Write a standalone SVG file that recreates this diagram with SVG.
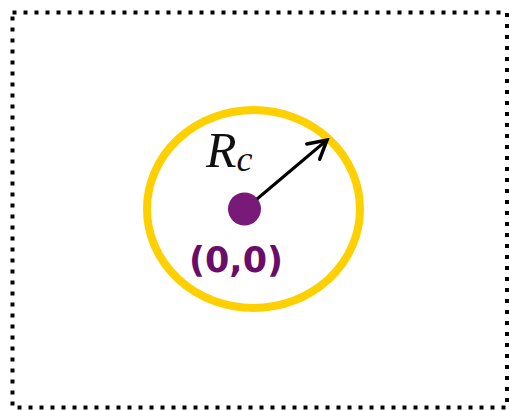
<svg xmlns="http://www.w3.org/2000/svg" width="509" height="411" viewBox="0 0 509 411">
<style>
.frame{fill:none;stroke:#000;stroke-width:4;stroke-dasharray:4 7}
.lbl{font-family:"DejaVu Sans",sans-serif;font-weight:bold;fill:#6a0d6a}
.math{font-family:"Liberation Serif","DejaVu Serif",serif;font-style:italic;fill:#111}
</style>
<defs>
<marker id="ah" viewBox="0 0 24 24" refX="21" refY="12" markerWidth="24" markerHeight="24" markerUnits="userSpaceOnUse" orient="auto">
<path d="M3,2 L21,12 L3,22" fill="none" stroke="#000" stroke-width="3.5" stroke-linejoin="miter" stroke-linecap="round"/>
</marker>
</defs>
<rect class="frame" x="12.5" y="12.5" width="494.5" height="395"/>
<g id="circle">
<ellipse cx="253.5" cy="209" rx="106.5" ry="99" fill="none" stroke="#FFD000" stroke-width="8"/>
</g>
<g id="origin">
<circle cx="244.5" cy="209" r="16.5" fill="#7a1a78"/>
<text class="lbl" x="236" y="272" font-size="35" text-anchor="middle">(0,0)</text>
</g>
<g id="connectors">
<line x1="257" y1="199" x2="327" y2="140" stroke="#000" stroke-width="3" marker-end="url(#ah)"/>
</g>
<g id="radius-label">
<text class="math" x="206" y="167" font-size="50">R<tspan font-size="36" dy="4">c</tspan></text>
</g>
</svg>
